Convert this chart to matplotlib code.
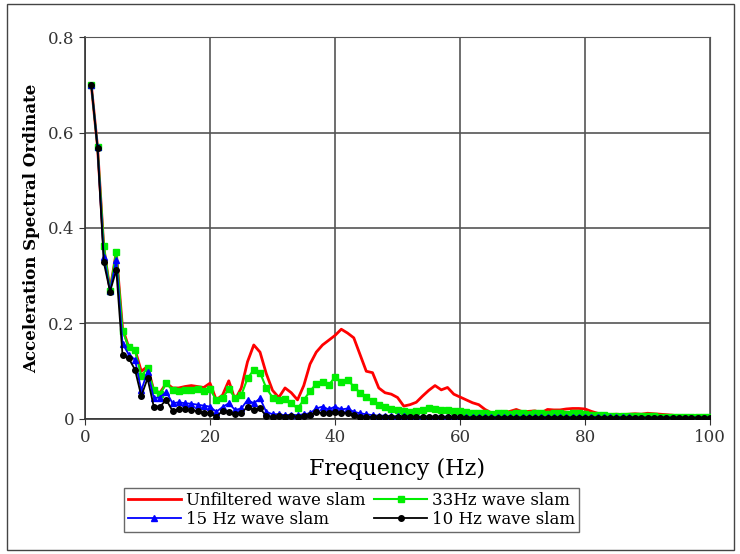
import matplotlib
matplotlib.use("Agg")
import matplotlib.pyplot as plt
from matplotlib.patches import Rectangle

freq = list(range(1, 101))

unfiltered = [0.70, 0.57, 0.36, 0.27, 0.35, 0.19, 0.15, 0.145, 0.10, 0.11,
              0.06, 0.055, 0.075, 0.065, 0.065, 0.068, 0.07, 0.068, 0.066, 0.075,
              0.04, 0.05, 0.08, 0.04, 0.065, 0.12, 0.155, 0.14, 0.095, 0.06,
              0.045, 0.065, 0.055, 0.04, 0.07, 0.115, 0.14, 0.155, 0.165, 0.175,
              0.188, 0.18, 0.17, 0.135, 0.10, 0.097, 0.065, 0.055, 0.052, 0.045,
              0.027, 0.03, 0.035, 0.048, 0.06, 0.07, 0.061, 0.066, 0.052, 0.046,
              0.04, 0.034, 0.030, 0.02, 0.013, 0.013, 0.013, 0.016, 0.02, 0.015,
              0.016, 0.017, 0.013, 0.02, 0.019, 0.019, 0.021, 0.022, 0.022, 0.021,
              0.016, 0.012, 0.008, 0.009, 0.010, 0.009, 0.010, 0.011, 0.010, 0.012,
              0.011, 0.010, 0.009, 0.008, 0.006, 0.005, 0.005, 0.004, 0.004, 0.004]

hz33 = [0.70, 0.57, 0.363, 0.268, 0.35, 0.185, 0.15, 0.144, 0.09, 0.107,
        0.06, 0.052, 0.075, 0.06, 0.058, 0.06, 0.06, 0.062, 0.058, 0.062,
        0.04, 0.045, 0.062, 0.045, 0.05, 0.085, 0.103, 0.097, 0.065, 0.045,
        0.04, 0.042, 0.033, 0.022, 0.04, 0.058, 0.074, 0.078, 0.071, 0.088,
        0.078, 0.082, 0.068, 0.055, 0.047, 0.037, 0.03, 0.026, 0.02, 0.019,
        0.016, 0.014, 0.016, 0.018, 0.022, 0.02, 0.018, 0.019, 0.016, 0.017,
        0.014, 0.013, 0.012, 0.012, 0.011, 0.012, 0.012, 0.011, 0.012, 0.012,
        0.011, 0.012, 0.012, 0.011, 0.012, 0.012, 0.011, 0.012, 0.012, 0.011,
        0.009, 0.008, 0.008, 0.007, 0.007, 0.007, 0.006, 0.006, 0.006, 0.006,
        0.006, 0.005, 0.005, 0.005, 0.005, 0.004, 0.004, 0.004, 0.004, 0.004]

hz15 = [0.70, 0.57, 0.34, 0.268, 0.333, 0.158, 0.135, 0.124, 0.06, 0.099,
        0.044, 0.045, 0.057, 0.033, 0.035, 0.033, 0.032, 0.03, 0.028, 0.026,
        0.015, 0.025, 0.033, 0.019, 0.022, 0.04, 0.033, 0.043, 0.015, 0.01,
        0.01, 0.008, 0.009, 0.008, 0.01, 0.012, 0.022, 0.026, 0.02, 0.026,
        0.02, 0.022, 0.015, 0.012, 0.01, 0.008, 0.007, 0.007, 0.006, 0.006,
        0.006, 0.005, 0.005, 0.005, 0.005, 0.005, 0.005, 0.005, 0.005, 0.005,
        0.004, 0.004, 0.004, 0.004, 0.004, 0.004, 0.004, 0.004, 0.004, 0.004,
        0.004, 0.004, 0.004, 0.004, 0.004, 0.004, 0.004, 0.004, 0.004, 0.004,
        0.004, 0.004, 0.004, 0.004, 0.004, 0.004, 0.004, 0.003, 0.003, 0.003,
        0.003, 0.003, 0.003, 0.003, 0.003, 0.003, 0.003, 0.003, 0.003, 0.003]

hz10 = [0.70, 0.567, 0.328, 0.267, 0.312, 0.134, 0.127, 0.103, 0.048, 0.085,
        0.026, 0.026, 0.04, 0.017, 0.02, 0.02, 0.019, 0.016, 0.012, 0.012,
        0.005, 0.017, 0.015, 0.01, 0.012, 0.026, 0.019, 0.022, 0.006, 0.005,
        0.006, 0.005, 0.006, 0.005, 0.006, 0.008, 0.015, 0.012, 0.012, 0.015,
        0.012, 0.013, 0.008, 0.005, 0.005, 0.004, 0.004, 0.004, 0.004, 0.004,
        0.004, 0.004, 0.004, 0.004, 0.004, 0.004, 0.004, 0.004, 0.004, 0.004,
        0.003, 0.003, 0.003, 0.003, 0.003, 0.003, 0.003, 0.003, 0.003, 0.003,
        0.003, 0.003, 0.003, 0.003, 0.003, 0.003, 0.003, 0.003, 0.003, 0.003,
        0.003, 0.003, 0.003, 0.003, 0.003, 0.003, 0.003, 0.003, 0.003, 0.003,
        0.003, 0.003, 0.003, 0.003, 0.003, 0.003, 0.003, 0.003, 0.003, 0.003]

xticks = [0, 20, 40, 60, 80, 100]
yticks = [0, 0.2, 0.4, 0.6, 0.8]
ytick_labels = ["0", "0.2", "0.4", "0.6", "0.8"]

serif = "DejaVu Serif"

fig = plt.figure(figsize=(7.4, 5.54), dpi=100)
ax = fig.add_axes([0.1149, 0.2437, 0.8446, 0.6895])

l_unf, = ax.plot(freq, unfiltered, color="#ff0000", lw=2.0, label="Unfiltered wave slam", zorder=3)
l_33, = ax.plot(freq, hz33, color="#00ee00", lw=1.5, marker="s", ms=5, label="33Hz wave slam", zorder=4)
l_15, = ax.plot(freq, hz15, color="#0000ff", lw=1.3, marker="^", ms=5, label="15 Hz wave slam", zorder=5)
l_10, = ax.plot(freq, hz10, color="#000000", lw=1.3, marker="o", ms=4, label="10 Hz wave slam", zorder=6)

ax.set_xlim(0, 100)
ax.set_ylim(0, 0.8)
ax.set_xticks(xticks)
ax.set_yticks(yticks)
ax.set_yticklabels(ytick_labels)
ax.grid(True, color="#555555", lw=1.2)
ax.set_axisbelow(True)
for s in ["top", "right"]:
    ax.spines[s].set_color("#555555")
for s in ["left", "bottom"]:
    ax.spines[s].set_color("#333333")
    ax.spines[s].set_linewidth(1.2)
ax.tick_params(direction="out", length=4, labelsize=12, colors="#333333")
for lab in ax.get_xticklabels() + ax.get_yticklabels():
    lab.set_family(serif)

ax.set_xlabel("Frequency (Hz)", fontsize=16, family=serif, labelpad=8)
ax.set_ylabel("Acceleration Spectral Ordinate", fontsize=12, family=serif,
              fontweight="bold", labelpad=6)

handles = [l_unf, l_15, l_33, l_10]
labels = [h.get_label() for h in handles]
leg = fig.legend(handles, labels, loc="center", bbox_to_anchor=(0.475, 0.08), ncol=2,
                 frameon=True, fancybox=False, edgecolor="#444444",
                 prop={"family": serif, "size": 12},
                 handlelength=3.2, columnspacing=0.5, borderpad=0.25,
                 labelspacing=0.1, handletextpad=0.3, borderaxespad=0)
leg.get_frame().set_linewidth(1.0)

fig.patches.append(Rectangle((0.009, 0.007), 0.983, 0.986, transform=fig.transFigure,
                             fill=False, edgecolor="#444444", lw=1.0))

fig.savefig("out.png", dpi=100)
